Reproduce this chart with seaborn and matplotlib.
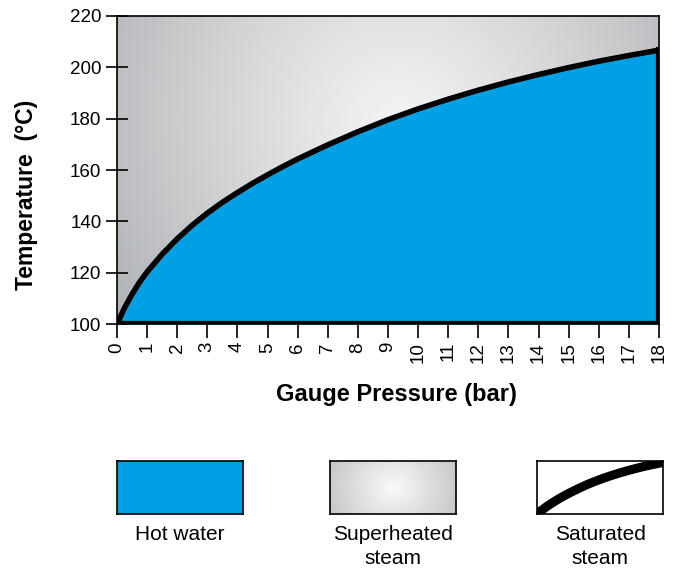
import numpy as np
import pandas as pd
import matplotlib
matplotlib.use("Agg")
import matplotlib.pyplot as plt
import seaborn as sns

# ---- data ----
pressure_bar = [0, 0.25, 0.5, 0.75, 1, 1.5, 2, 2.5, 3, 3.5, 4, 4.5, 5, 5.5, 6,
                7, 8, 9, 10, 11, 12, 13, 14, 15, 16, 17, 18]
temperature_c = [100, 106.3, 111.6, 116.3, 120.3, 127.2, 133.2, 138.5, 143.2, 147.4,
                 151.2, 154.8, 158.1, 161.3, 164.3, 169.8, 174.9, 179.6, 183.8, 187.6,
                 191.1, 194.3, 197.2, 199.9, 202.4, 204.6, 206.7]
x_ticks = list(range(0, 19))
y_ticks = [100, 120, 140, 160, 180, 200, 220]
legend_labels = ["Hot water", "Superheated\nsteam", "Saturated\nsteam"]

BLUE = "#00A0E4"

sns.set_theme(style="white")
plt.rcParams["font.family"] = ["Liberation Sans", "DejaVu Sans"]
plt.rcParams.update({"text.color": "black", "axes.labelcolor": "black",
                     "xtick.color": "black", "ytick.color": "black"})

df = pd.DataFrame({"p": pressure_bar, "t": temperature_c})

W, H = 683, 569
fig = plt.figure(figsize=(W / 100, H / 100), dpi=100)
L, R, T, B = 117, 659, 16, 324
ax = fig.add_axes([L / W, 1 - B / H, (R - L) / W, (B - T) / H])


def radial_gradient(nx, ny, cx, cy, sx, sy, c0, c1, power=1.3):
    xs = (np.arange(nx) + 0.5) / nx
    ys = (np.arange(ny) + 0.5) / ny
    X, Y = np.meshgrid(xs, ys)
    d = np.sqrt(((X - cx) / sx) ** 2 + ((Y - cy) / sy) ** 2)
    d = np.clip(d, 0, 1) ** power
    c0 = np.array(c0) / 255.0
    c1 = np.array(c1) / 255.0
    img = c0[None, None, :] * (1 - d[..., None]) + c1[None, None, :] * d[..., None]
    return img


# background gradient (superheated region); image rows from top
bg = radial_gradient(542, 308, 0.52, 0.33, 0.62, 1.05, (243, 243, 244), (178, 181, 184), 1.1)
ax.imshow(bg, extent=(0, 18, 100, 220), aspect="auto", origin="upper", zorder=0,
          interpolation="bilinear")

ax.fill_between(df["p"], 100, df["t"], color=BLUE, zorder=1, linewidth=0)
sns.lineplot(data=df, x="p", y="t", color="black", linewidth=4, ax=ax, zorder=3,
             solid_capstyle="butt", solid_joinstyle="round")
ax.plot([0, 18], [100, 100], color="black", linewidth=4.5, zorder=3, solid_capstyle="projecting")
ax.plot([18, 18], [100, temperature_c[-1]], color="black", linewidth=4.5, zorder=3,
        solid_capstyle="projecting")

ax.set_xlim(0, 18)
ax.set_ylim(100, 220)
ax.set_xticks(x_ticks)
ax.set_xticklabels([str(v) for v in x_ticks], rotation=90, fontsize=13.5)
ax.set_yticks(y_ticks)
ax.set_yticklabels([str(v) for v in y_ticks], fontsize=13.5)
ax.tick_params(axis="y", which="major", left=True, direction="inout", length=16.5,
               width=1.2, color="black", pad=3)
ax.tick_params(axis="x", which="major", bottom=True, direction="out", length=10,
               width=1.2, color="black", pad=3)
for s in ax.spines.values():
    s.set_color("black")
    s.set_linewidth(1.2)
    s.set_visible(True)

ax.set_xlabel("Gauge Pressure (bar)", fontsize=17, fontweight="bold")
ax.set_ylabel("Temperature  (°C)", fontsize=16.5, fontweight="bold")
ax.xaxis.set_label_coords((396 - L) / (R - L), (B - 383) / (B - T))
ax.yaxis.set_label_coords((38 - L) / (R - L), (B - 195) / (B - T))

# ---- legend boxes ----
box_left = [117, 330, 537]
bw, bt, bb = 126, 461, 514
for i, lab in enumerate(legend_labels):
    lax = fig.add_axes([box_left[i] / W, 1 - bb / H, bw / W, (bb - bt) / H])
    if i == 0:
        lax.set_facecolor(BLUE)
    elif i == 1:
        g = radial_gradient(126, 53, 0.5, 0.5, 0.75, 1.6, (250, 250, 250), (176, 179, 182), 1.0)
        lax.imshow(g, extent=(0, 1, 0, 1), aspect="auto", origin="upper")
        lax.set_xlim(0, 1)
        lax.set_ylim(0, 1)
    else:
        lax.set_facecolor("white")
        sns.lineplot(x=pressure_bar, y=temperature_c, color="black", linewidth=6.5, ax=lax)
        lax.set_xlim(3, 18)
        lax.set_ylim(143.2, 208.5)
        lax.set_xlabel("")
        lax.set_ylabel("")
    lax.set_xticks([])
    lax.set_yticks([])
    for s in lax.spines.values():
        s.set_color("black")
        s.set_linewidth(1.2)
        s.set_visible(True)
    fig.text((box_left[i] + bw / 2) / W, 1 - 525 / H, lab, ha="center", va="top",
             fontsize=15, linespacing=1.3)

fig.savefig("out.png", dpi=100)
